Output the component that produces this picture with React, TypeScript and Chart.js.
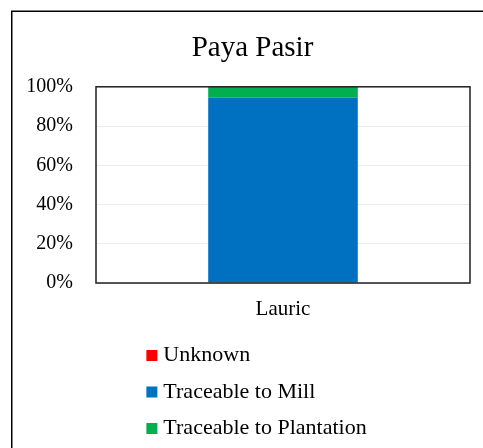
import React, { useEffect, useRef } from "react";
import { Chart, registerables } from "chart.js";

Chart.register(...registerables);

const TITLE = "Paya Pasir";
const categories = ["Lauric"];
const seriesNames = ["Unknown", "Traceable to Mill", "Traceable to Plantation"];
const unknownValues = [0];
const millValues = [94.6];
const plantationValues = [5.4];
const seriesColors = ["#FF0000", "#0070C0", "#00B050"];
const yTicks = [0, 20, 40, 60, 80, 100];

const FONT = "'Liberation Serif', 'Times New Roman', serif";

const frameAndLegend = {
  id: "frameAndLegend",
  afterDatasetsDraw(chart: any) {
    const { ctx, chartArea } = chart;
    ctx.save();
    ctx.strokeStyle = "#1f1f1f";
    ctx.lineWidth = 1.5;
    ctx.strokeRect(chartArea.left, chartArea.top, chartArea.right - chartArea.left, chartArea.bottom - chartArea.top);
    ctx.restore();
  },
  afterDraw(chart: any) {
    const { ctx, chartArea, width } = chart;
    ctx.save();
    // outer chart frame (cropped on the right and bottom)
    ctx.strokeStyle = "#000";
    ctx.lineWidth = 1.5;
    ctx.strokeRect(11.75, 11.25, 2000, 2000);

    // legend
    const fontSize = 22;
    ctx.font = `${fontSize}px ${FONT}`;
    const ds = chart.data.datasets;
    let maxW = 0;
    ds.forEach((d: any) => {
      maxW = Math.max(maxW, ctx.measureText(d.label).width);
    });
    const box = 11;
    const gap = 6;
    const blockW = box + gap + maxW;
    const left = width / 2 - blockW / 2 + 4;
    const firstY = chartArea.bottom + 72.5;
    const step = 36.5;
    ds.forEach((d: any, i: number) => {
      const cy = firstY + i * step;
      ctx.fillStyle = d.backgroundColor;
      ctx.fillRect(left, cy - box / 2, box, box);
      ctx.fillStyle = "#000";
      ctx.textBaseline = "middle";
      ctx.textAlign = "left";
      ctx.fillText(d.label, left + box + gap, cy);
    });
    ctx.restore();
  },
};

export default function App() {
  const ref = useRef<HTMLCanvasElement | null>(null);

  useEffect(() => {
    if (!ref.current) return;
    const values = [unknownValues, millValues, plantationValues];
    const chart = new Chart(ref.current, {
      type: "bar",
      data: {
        labels: categories,
        datasets: seriesNames.map((name, i) => ({
          label: name,
          data: values[i],
          backgroundColor: seriesColors[i],
          borderWidth: 0,
          barPercentage: 1,
          categoryPercentage: 0.4,
          yAxisID: "y",
        })),
      },
      options: {
        responsive: false,
        animation: false,
        devicePixelRatio: 1,
        layout: { padding: 0 },
        plugins: {
          legend: { display: false },
          tooltip: { enabled: false },
          title: {
            display: true,
            text: TITLE,
            color: "#000",
            font: { family: FONT, size: 29, weight: "normal" },
            padding: { top: 31, bottom: 21 },
          },
        },
        scales: {
          x: {
            stacked: true,
            grid: { display: false, drawTicks: false },
            border: { display: false },
            ticks: {
              color: "#000",
              font: { family: FONT, size: 21 },
              padding: 14,
            },
            afterFit: (s: any) => {
              s.height = 165;
            },
          },
          y: {
            stacked: true,
            min: 0,
            max: 100,
            afterBuildTicks: (s: any) => {
              s.ticks = yTicks.map((v) => ({ value: v }));
            },
            grid: { color: "#ececec", lineWidth: 1, drawTicks: false },
            border: { display: false },
            ticks: {
              color: "#000",
              font: { family: FONT, size: 20 },
              padding: 23,
              callback: (v: any) => `${v}%`,
            },
            afterFit: (s: any) => {
              s.width = 96;
            },
          },
          spacer: {
            type: "linear",
            position: "right",
            display: true,
            grid: { display: false, drawTicks: false },
            border: { display: false },
            ticks: { display: false },
            afterFit: (s: any) => {
              s.width = 35;
            },
          },
        },
      },
      plugins: [frameAndLegend],
    });
    return () => chart.destroy();
  }, []);

  return (
    <div
      style={{
        position: "fixed",
        left: 0,
        top: 0,
        width: 483,
        height: 448,
        overflow: "hidden",
        background: "#fff",
      }}
    >
      <canvas ref={ref} width={505} height={448} style={{ width: 505, height: 448, display: "block" }} />
    </div>
  );
}
